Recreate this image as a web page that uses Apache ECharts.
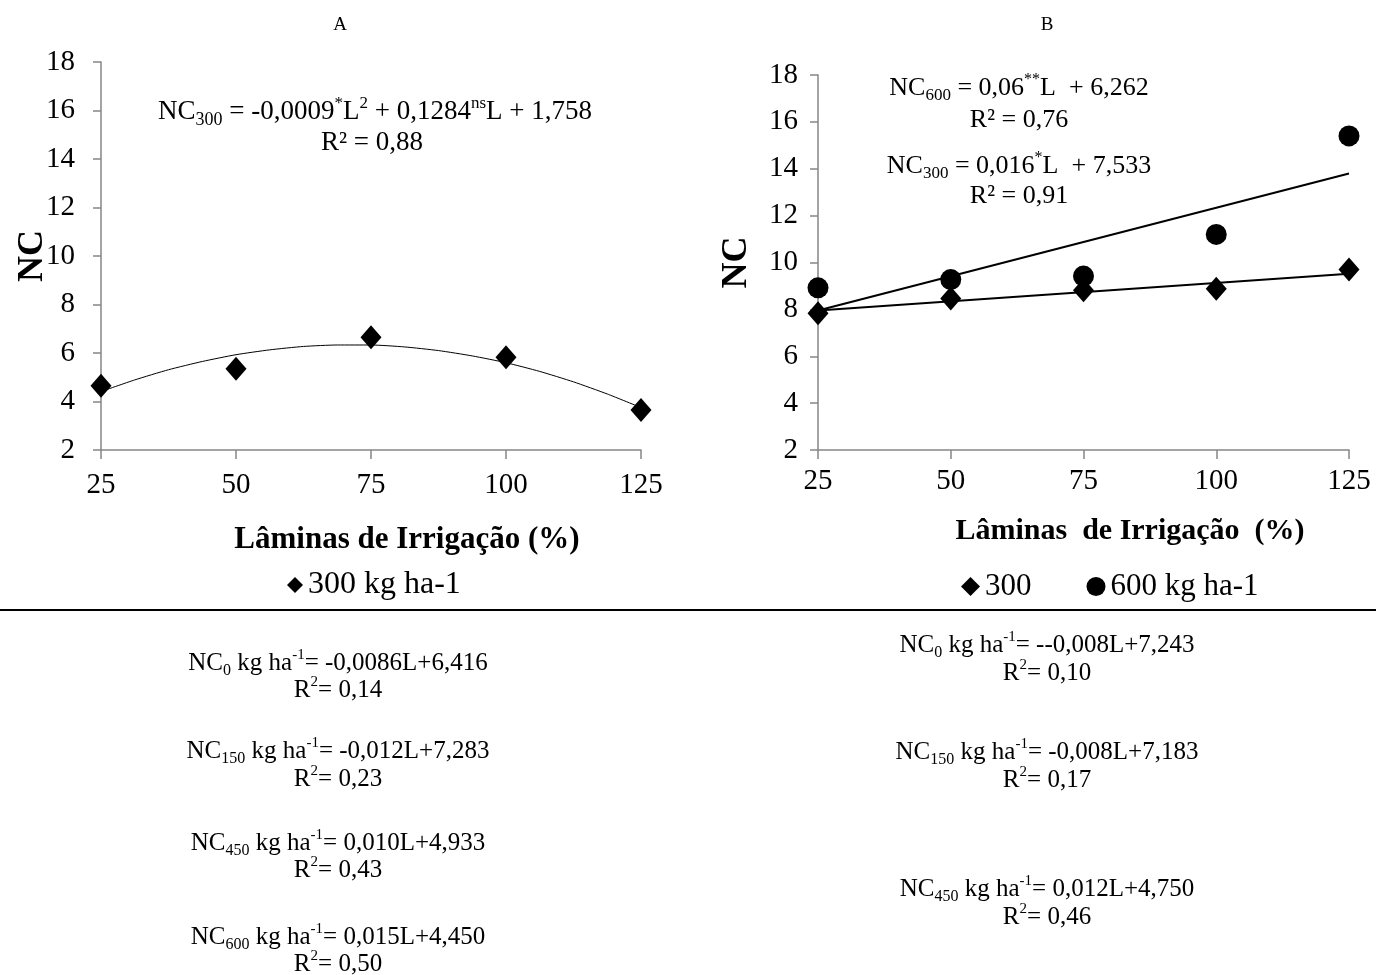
<!DOCTYPE html>
<html>
<head>
<meta charset="utf-8">
<script src="https://cdn.jsdelivr.net/npm/echarts@6/dist/echarts.min.js"></script>
<style>html,body{margin:0;padding:0;background:#fff;}#c{width:1376px;height:975px;}</style>
</head>
<body>
<div id="c"></div>
<script>
// ---- data ----
const laminas = [25, 50, 75, 100, 125];
const nc300_A = [4.65, 5.35, 6.65, 5.82, 3.65];
const trendA_x = [25, 31.25, 37.5, 43.75, 50, 56.25, 62.5, 68.75, 75, 81.25, 87.5, 93.75, 100, 106.25, 112.5, 118.75, 125];
const trendA_y = [4.41, 4.89, 5.31, 5.65, 5.93, 6.13, 6.27, 6.33, 6.33, 6.25, 6.10, 5.88, 5.60, 5.24, 4.81, 4.31, 3.75];
const nc300_B = [7.83, 8.46, 8.82, 8.88, 9.7];
const nc600_B = [8.92, 9.27, 9.42, 11.2, 15.4];
const trend300_B = [[25, 7.95], [125, 9.52]];
const trend600_B = [[25, 7.95], [125, 13.8]];
const yTicks = { min: 2, max: 18, interval: 2 };

const F = 'Liberation Serif';
const pair = (xs, ys) => xs.map((x, i) => [x, ys[i]]);

function mkRich(size, subSize, supSize, lh) {
  return {
    m: { fontFamily: F, fontSize: size, lineHeight: lh, color: '#000' },
    sub: { fontFamily: F, fontSize: subSize, lineHeight: subSize, verticalAlign: 'bottom', color: '#000' },
    sup: { fontFamily: F, fontSize: supSize, lineHeight: supSize, verticalAlign: 'top', color: '#000' }
  };
}
const richA = mkRich(27, 18, 17, 34);
const richB = mkRich(26, 17, 16, 32);
const richLow = mkRich(25, 16, 15, 31);

function rt(x, y, text, rich) {
  return { type: 'text', x: x, y: y, style: { text: text, rich: rich, textAlign: 'center', textVerticalAlign: 'middle', font: '22px ' + F, fill: '#000' } };
}
function pt(x, y, text, size, bold) {
  return { type: 'text', x: x, y: y, style: { text: text, textAlign: 'center', textVerticalAlign: 'middle', font: (bold ? 'bold ' : '') + size + 'px "' + F + '"', fill: '#000' } };
}

const lowerLeft = [
  ['{m|NC}{sub|0}{m| kg ha}{sup|-1}{m|= -0,0086L+6,416}', 663], ['{m|R}{sup|2}{m|= 0,14}', 690],
  ['{m|NC}{sub|150}{m| kg ha}{sup|-1}{m|= -0,012L+7,283}', 751], ['{m|R}{sup|2}{m|= 0,23}', 779],
  ['{m|NC}{sub|450}{m| kg ha}{sup|-1}{m|= 0,010L+4,933}', 843], ['{m|R}{sup|2}{m|= 0,43}', 870],
  ['{m|NC}{sub|600}{m| kg ha}{sup|-1}{m|= 0,015L+4,450}', 937], ['{m|R}{sup|2}{m|= 0,50}', 964]
];
const lowerRight = [
  ['{m|NC}{sub|0}{m| kg ha}{sup|-1}{m|= --0,008L+7,243}', 645], ['{m|R}{sup|2}{m|= 0,10}', 673],
  ['{m|NC}{sub|150}{m| kg ha}{sup|-1}{m|= -0,008L+7,183}', 752], ['{m|R}{sup|2}{m|= 0,17}', 780],
  ['{m|NC}{sub|450}{m| kg ha}{sup|-1}{m|= 0,012L+4,750}', 889], ['{m|R}{sup|2}{m|= 0,46}', 917]
];

const gray = '#868686';
function xAx(gi, margin) {
  return { type: 'value', gridIndex: gi, min: 25, max: 125, interval: 25,
    axisLine: { lineStyle: { color: gray, width: 1.5 } },
    axisTick: { show: true, inside: false, length: 9, lineStyle: { color: gray, width: 1.5 } },
    splitLine: { show: false },
    axisLabel: { fontFamily: F, fontSize: 29, color: '#000', margin: margin } };
}
function yAx(gi, margin, gap) {
  return { type: 'value', gridIndex: gi, min: yTicks.min, max: yTicks.max, interval: yTicks.interval,
    name: 'NC', nameLocation: 'middle', nameGap: gap, nameRotate: 90, nameMoveOverlap: false,
    nameTextStyle: { fontFamily: F, fontSize: 36, fontWeight: 'bold', color: '#000' },
    axisLine: { show: true, lineStyle: { color: gray, width: 1.5 } },
    axisTick: { show: true, inside: false, length: 8, lineStyle: { color: gray, width: 1.5 } },
    splitLine: { show: false },
    axisLabel: { fontFamily: F, fontSize: 29, color: '#000', margin: margin } };
}

const chart = echarts.init(document.getElementById('c'), null, { renderer: 'canvas' });
chart.setOption({
  backgroundColor: '#fff',
  animation: false,
  grid: [
    { left: 101, right: 735, top: 62, bottom: 525 },
    { left: 818, right: 27, top: 75, bottom: 525 }
  ],
  xAxis: [xAx(0, 21), xAx(1, 17)],
  yAxis: [yAx(0, 26, 50), yAx(1, 20, 63)],
  legend: [
    { data: ['300 kg ha-1'], left: 282, top: 564, itemWidth: 16, itemHeight: 16, itemGap: 10,
      textStyle: { fontFamily: F, fontSize: 32, color: '#000' } },
    { data: ['300', '600 kg ha-1'], left: 956, top: 566, itemWidth: 19, itemHeight: 19, itemGap: 55,
      textStyle: { fontFamily: F, fontSize: 31, color: '#000' } }
  ],
  series: [
    { name: 'trendA', type: 'line', xAxisIndex: 0, yAxisIndex: 0, data: pair(trendA_x, trendA_y), smooth: 0.2,
      showSymbol: false, symbol: 'none', lineStyle: { color: '#000', width: 1 }, z: 2 },
    { name: '300 kg ha-1', type: 'scatter', xAxisIndex: 0, yAxisIndex: 0, data: pair(laminas, nc300_A),
      symbol: 'diamond', symbolSize: [21, 24], itemStyle: { color: '#000', opacity: 1 }, z: 3 },
    { name: 'trend600', type: 'line', xAxisIndex: 1, yAxisIndex: 1, data: trend600_B,
      showSymbol: false, symbol: 'none', lineStyle: { color: '#000', width: 2 }, z: 2 },
    { name: 'trend300', type: 'line', xAxisIndex: 1, yAxisIndex: 1, data: trend300_B,
      showSymbol: false, symbol: 'none', lineStyle: { color: '#000', width: 2 }, z: 2 },
    { name: '600 kg ha-1', type: 'scatter', xAxisIndex: 1, yAxisIndex: 1, data: pair(laminas, nc600_B),
      symbol: 'circle', symbolSize: 21, itemStyle: { color: '#000', opacity: 1 }, z: 3 },
    { name: '300', type: 'scatter', xAxisIndex: 1, yAxisIndex: 1, data: pair(laminas, nc300_B),
      symbol: 'diamond', symbolSize: [21, 24], itemStyle: { color: '#000', opacity: 1 }, z: 4 }
  ],
  graphic: [
    pt(340, 25, 'A', 19, false),
    pt(1047, 25, 'B', 19, false),
    pt(407, 540, 'Lâminas de Irrigação (%)', 31, true),
    pt(1130, 531, 'Lâminas  de Irrigação  (%)', 30, true),
    rt(375, 112, '{m|NC}{sub|300}{m| = -0,0009}{sup|*}{m|L}{sup|2}{m| + 0,1284}{sup|ns}{m|L + 1,758}', richA),
    rt(372, 143, '{m|R² = 0,88}', richA),
    rt(1019, 88, '{m|NC}{sub|600}{m| = 0,06}{sup|**}{m|L  + 6,262}', richB),
    rt(1019, 120, '{m|R² = 0,76}', richB),
    rt(1019, 166, '{m|NC}{sub|300}{m| = 0,016}{sup|*}{m|L  + 7,533}', richB),
    rt(1019, 196, '{m|R² = 0,91}', richB),
    { type: 'line', shape: { x1: 0, y1: 610, x2: 1376, y2: 610 }, style: { stroke: '#000', lineWidth: 2 } }
  ].concat(lowerLeft.map(d => rt(338, d[1], d[0], richLow)))
   .concat(lowerRight.map(d => rt(1047, d[1], d[0], richLow)))
});
</script>
</body>
</html>
